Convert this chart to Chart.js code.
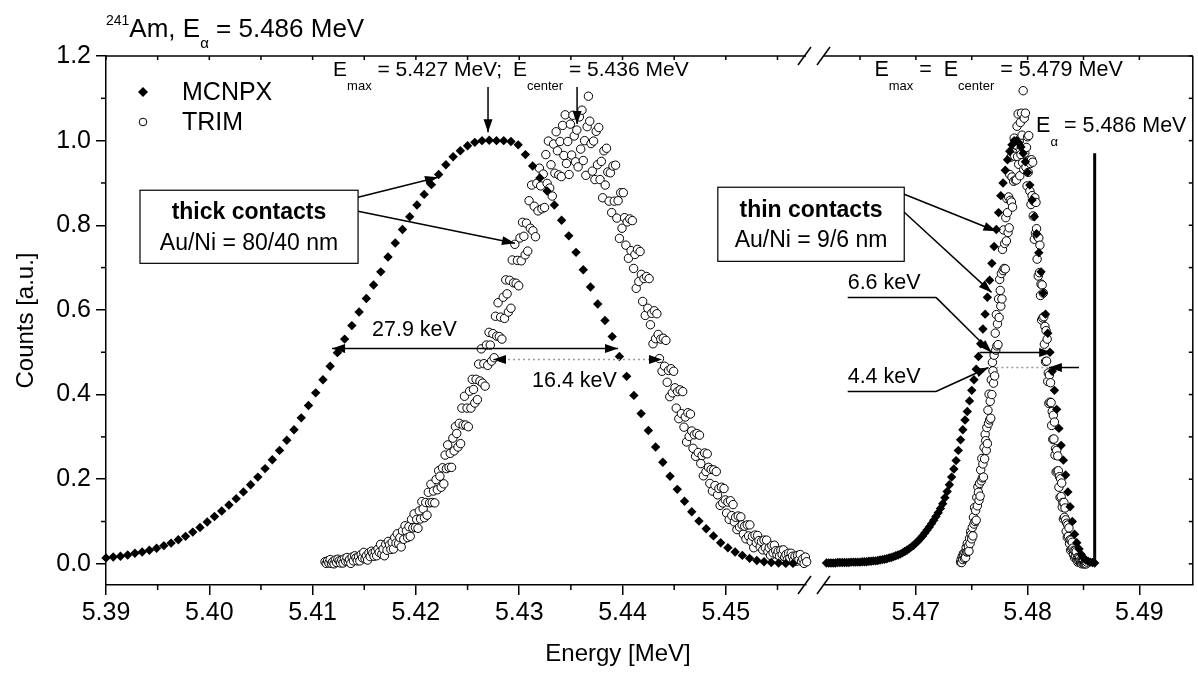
<!DOCTYPE html>
<html lang="en">
<head>
<meta charset="UTF-8">
<title>241Am alpha spectra, thick and thin contacts</title>
<script src="https://cdn.jsdelivr.net/npm/chart.js"></script>
<style>
  body { margin: 0; background: #fff; }
  .wrap { position: relative; width: 1198px; height: 673px; }
  .wrap canvas { position: absolute; left: 0; top: 0; }
</style>
</head>
<body>
<div class="wrap">
  <canvas id="leftChart" width="1198" height="673"></canvas>
  <canvas id="rightChart" width="1198" height="673"></canvas>
</div>
<script>
const FONT = "'Liberation Sans', Arial, Helvetica, sans-serif";

// ---- thick contacts, MCNPX (diamonds) ----
const mcnpxThickE = [
  5.3900, 5.3907, 5.3914, 5.3921, 5.3928, 5.3935, 5.3942, 5.3949, 5.3956, 5.3963,
  5.3970, 5.3977, 5.3984, 5.3991, 5.3998, 5.4005, 5.4012, 5.4019, 5.4026, 5.4033,
  5.4040, 5.4047, 5.4054, 5.4061, 5.4068, 5.4075, 5.4082, 5.4089, 5.4096, 5.4103,
  5.4110, 5.4117, 5.4124, 5.4131, 5.4138, 5.4145, 5.4152, 5.4159, 5.4166, 5.4173,
  5.4180, 5.4187, 5.4194, 5.4201, 5.4208, 5.4215, 5.4222, 5.4229, 5.4236, 5.4243,
  5.4250, 5.4257, 5.4264, 5.4271, 5.4278, 5.4285, 5.4292, 5.4299, 5.4306, 5.4313,
  5.4320, 5.4327, 5.4334, 5.4341, 5.4348, 5.4355, 5.4362, 5.4369, 5.4376, 5.4383,
  5.4390, 5.4397, 5.4404, 5.4411, 5.4418, 5.4425, 5.4432, 5.4439, 5.4446, 5.4453,
  5.4460, 5.4467, 5.4474, 5.4481, 5.4488, 5.4495, 5.4502, 5.4509, 5.4516, 5.4523,
  5.4530, 5.4537, 5.4544, 5.4551, 5.4558, 5.4565
];
const mcnpxThickY = [
  0.014, 0.016, 0.018, 0.021, 0.025, 0.028, 0.032, 0.037, 0.043, 0.049,
  0.057, 0.065, 0.075, 0.086, 0.099, 0.112, 0.125, 0.139, 0.154, 0.170,
  0.187, 0.205, 0.225, 0.246, 0.268, 0.292, 0.317, 0.345, 0.374, 0.404,
  0.435, 0.467, 0.499, 0.531, 0.563, 0.595, 0.627, 0.659, 0.690, 0.725,
  0.758, 0.790, 0.820, 0.848, 0.873, 0.896, 0.920, 0.943, 0.962, 0.976,
  0.988, 0.996, 1.000, 1.001, 1.000, 1.000, 0.998, 0.990, 0.967, 0.940,
  0.912, 0.881, 0.848, 0.812, 0.775, 0.736, 0.695, 0.654, 0.614, 0.575,
  0.537, 0.490, 0.443, 0.398, 0.355, 0.315, 0.276, 0.240, 0.207, 0.176,
  0.148, 0.123, 0.101, 0.083, 0.066, 0.050, 0.038, 0.028, 0.020, 0.013,
  0.008, 0.005, 0.003, 0.002, 0.001, 0.001
];

// ---- thick contacts, TRIM (open circles) ----
const trimThickE = [
  5.411200, 5.411325, 5.411450, 5.411575, 5.411700, 5.411825, 5.411950, 5.412075,
  5.412200, 5.412325, 5.412450, 5.412575, 5.412700, 5.412825, 5.412950, 5.413075,
  5.413200, 5.413325, 5.413450, 5.413575, 5.413700, 5.413825, 5.413950, 5.414075,
  5.414200, 5.414325, 5.414450, 5.414575, 5.414700, 5.414825, 5.414950, 5.415075,
  5.415200, 5.415325, 5.415450, 5.415575, 5.415700, 5.415825, 5.415950, 5.416075,
  5.416200, 5.416325, 5.416450, 5.416575, 5.416700, 5.416825, 5.416950, 5.417075,
  5.417200, 5.417325, 5.417450, 5.417575, 5.417700, 5.417825, 5.417950, 5.418075,
  5.418200, 5.418325, 5.418450, 5.418575, 5.418700, 5.418825, 5.418950, 5.419075,
  5.419200, 5.419325, 5.419450, 5.419575, 5.419700, 5.419825, 5.419950, 5.420075,
  5.420200, 5.420325, 5.420450, 5.420575, 5.420700, 5.420825, 5.420950, 5.421075,
  5.421200, 5.421325, 5.421450, 5.421575, 5.421700, 5.421825, 5.421950, 5.422075,
  5.422200, 5.422325, 5.422450, 5.422575, 5.422700, 5.422825, 5.422950, 5.423075,
  5.423200, 5.423325, 5.423450, 5.423575, 5.423700, 5.423825, 5.423950, 5.424075,
  5.424200, 5.424325, 5.424450, 5.424575, 5.424700, 5.424825, 5.424950, 5.425075,
  5.425200, 5.425325, 5.425450, 5.425575, 5.425700, 5.425825, 5.425950, 5.426075,
  5.426200, 5.426325, 5.426450, 5.426575, 5.426700, 5.426825, 5.426950, 5.427075,
  5.427200, 5.427325, 5.427450, 5.427575, 5.427700, 5.427825, 5.427950, 5.428075,
  5.428200, 5.428325, 5.428450, 5.428575, 5.428700, 5.428825, 5.428950, 5.429075,
  5.429200, 5.429325, 5.429450, 5.429575, 5.429700, 5.429825, 5.429950, 5.430075,
  5.430200, 5.430325, 5.430450, 5.430575, 5.430700, 5.430825, 5.430950, 5.431075,
  5.431200, 5.431325, 5.431450, 5.431575, 5.431700, 5.431825, 5.431950, 5.432075,
  5.432200, 5.432325, 5.432450, 5.432575, 5.432700, 5.432825, 5.432950, 5.433075,
  5.433200, 5.433325, 5.433450, 5.433575, 5.433700, 5.433825, 5.433950, 5.434075,
  5.434200, 5.434325, 5.434450, 5.434575, 5.434700, 5.434825, 5.434950, 5.435075,
  5.435200, 5.435325, 5.435450, 5.435575, 5.435700, 5.435825, 5.435950, 5.436075,
  5.436200, 5.436325, 5.436450, 5.436575, 5.436700, 5.436825, 5.436950, 5.437075,
  5.437200, 5.437325, 5.437450, 5.437575, 5.437700, 5.437825, 5.437950, 5.438075,
  5.438200, 5.438325, 5.438450, 5.438575, 5.438700, 5.438825, 5.438950, 5.439075,
  5.439200, 5.439325, 5.439450, 5.439575, 5.439700, 5.439825, 5.439950, 5.440075,
  5.440200, 5.440325, 5.440450, 5.440575, 5.440700, 5.440825, 5.440950, 5.441075,
  5.441200, 5.441325, 5.441450, 5.441575, 5.441700, 5.441825, 5.441950, 5.442075,
  5.442200, 5.442325, 5.442450, 5.442575, 5.442700, 5.442825, 5.442950, 5.443075,
  5.443200, 5.443325, 5.443450, 5.443575, 5.443700, 5.443825, 5.443950, 5.444075,
  5.444200, 5.444325, 5.444450, 5.444575, 5.444700, 5.444825, 5.444950, 5.445075,
  5.445200, 5.445325, 5.445450, 5.445575, 5.445700, 5.445825, 5.445950, 5.446075,
  5.446200, 5.446325, 5.446450, 5.446575, 5.446700, 5.446825, 5.446950, 5.447075,
  5.447200, 5.447325, 5.447450, 5.447575, 5.447700, 5.447825, 5.447950, 5.448075,
  5.448200, 5.448325, 5.448450, 5.448575, 5.448700, 5.448825, 5.448950, 5.449075,
  5.449200, 5.449325, 5.449450, 5.449575, 5.449700, 5.449825, 5.449950, 5.450075,
  5.450200, 5.450325, 5.450450, 5.450575, 5.450700, 5.450825, 5.450950, 5.451075,
  5.451200, 5.451325, 5.451450, 5.451575, 5.451700, 5.451825, 5.451950, 5.452075,
  5.452200, 5.452325, 5.452450, 5.452575, 5.452700, 5.452825, 5.452950, 5.453075,
  5.453200, 5.453325, 5.453450, 5.453575, 5.453700, 5.453825, 5.453950, 5.454075,
  5.454200, 5.454325, 5.454450, 5.454575, 5.454700, 5.454825, 5.454950, 5.455075,
  5.455200, 5.455325, 5.455450, 5.455575, 5.455700, 5.455825, 5.455950, 5.456075,
  5.456200, 5.456325, 5.456450, 5.456575, 5.456700, 5.456825, 5.456950, 5.457075,
  5.457200, 5.457325, 5.457450, 5.457575, 5.457700, 5.457825, 5.457950
];
const trimThickY = [
  0.005, 0.001, 0.007, 0.002, 0.010, 0.001, 0.005, 0.000,
  0.009, 0.003, 0.011, 0.007, 0.002, 0.009, 0.002, 0.012,
  0.006, 0.015, 0.005, 0.010, 0.001, 0.016, 0.007, 0.019,
  0.014, 0.007, 0.017, 0.007, 0.022, 0.014, 0.027, 0.012,
  0.019, 0.009, 0.026, 0.017, 0.030, 0.025, 0.018, 0.029,
  0.019, 0.035, 0.027, 0.046, 0.023, 0.035, 0.019, 0.046,
  0.032, 0.053, 0.045, 0.034, 0.051, 0.035, 0.062, 0.049,
  0.071, 0.048, 0.062, 0.040, 0.078, 0.058, 0.090, 0.078,
  0.062, 0.088, 0.065, 0.105, 0.085, 0.118, 0.086, 0.105,
  0.084, 0.125, 0.106, 0.147, 0.130, 0.109, 0.145, 0.115,
  0.169, 0.144, 0.188, 0.145, 0.172, 0.144, 0.199, 0.175,
  0.220, 0.207, 0.181, 0.227, 0.189, 0.257, 0.225, 0.281,
  0.228, 0.261, 0.228, 0.297, 0.267, 0.324, 0.308, 0.276,
  0.332, 0.284, 0.368, 0.328, 0.396, 0.328, 0.368, 0.324,
  0.408, 0.368, 0.436, 0.412, 0.380, 0.436, 0.388, 0.472,
  0.432, 0.508, 0.427, 0.473, 0.420, 0.517, 0.469, 0.547,
  0.517, 0.479, 0.544, 0.487, 0.585, 0.538, 0.617, 0.537,
  0.583, 0.531, 0.630, 0.580, 0.671, 0.638, 0.595, 0.670,
  0.604, 0.718, 0.664, 0.755, 0.663, 0.717, 0.657, 0.770,
  0.716, 0.807, 0.774, 0.730, 0.805, 0.739, 0.858, 0.793,
  0.895, 0.787, 0.845, 0.773, 0.899, 0.834, 0.935, 0.893,
  0.839, 0.921, 0.842, 0.967, 0.899, 0.999, 0.888, 0.943,
  0.869, 0.992, 0.923, 1.021, 0.976, 0.919, 0.998, 0.915,
  1.036, 0.965, 1.061, 0.946, 0.998, 0.920, 1.039, 0.966,
  1.060, 1.011, 0.950, 1.025, 0.938, 1.056, 0.980, 1.072,
  0.953, 1.000, 0.918, 1.033, 1.105, 1.046, 0.993, 0.928,
  0.999, 0.908, 1.022, 0.943, 1.031, 0.908, 0.951, 0.865,
  0.976, 0.895, 0.982, 0.926, 0.857, 0.924, 0.830, 0.940,
  0.857, 0.942, 0.817, 0.858, 0.769, 0.877, 0.793, 0.877,
  0.818, 0.753, 0.808, 0.722, 0.815, 0.740, 0.811, 0.698,
  0.731, 0.651, 0.743, 0.667, 0.738, 0.684, 0.620, 0.674,
  0.587, 0.679, 0.604, 0.674, 0.565, 0.592, 0.520, 0.598,
  0.532, 0.591, 0.542, 0.485, 0.531, 0.455, 0.533, 0.467,
  0.528, 0.429, 0.457, 0.395, 0.461, 0.404, 0.455, 0.416,
  0.368, 0.407, 0.343, 0.411, 0.355, 0.407, 0.323, 0.347,
  0.288, 0.357, 0.301, 0.354, 0.314, 0.273, 0.305, 0.254,
  0.308, 0.263, 0.304, 0.237, 0.256, 0.208, 0.262, 0.218,
  0.260, 0.228, 0.190, 0.223, 0.172, 0.222, 0.185, 0.218,
  0.163, 0.178, 0.138, 0.181, 0.144, 0.178, 0.151, 0.120,
  0.146, 0.105, 0.149, 0.114, 0.140, 0.099, 0.110, 0.081,
  0.113, 0.087, 0.111, 0.092, 0.070, 0.089, 0.059, 0.092,
  0.066, 0.092, 0.053, 0.065, 0.038, 0.068, 0.050, 0.067,
  0.055, 0.040, 0.053, 0.033, 0.056, 0.038, 0.056, 0.029,
  0.038, 0.020, 0.043, 0.026, 0.044, 0.031, 0.022, 0.030,
  0.018, 0.032, 0.022, 0.033, 0.016, 0.022, 0.010, 0.025,
  0.014, 0.025, 0.018, 0.009, 0.018, 0.006, 0.020, 0.010,
  0.022, 0.006, 0.012, 0.001, 0.016, 0.005, 0.017
];

// ---- thin contacts, MCNPX (diamonds) ----
const mcnpxThinE = [
  5.4620, 5.4622, 5.4624, 5.4626, 5.4628, 5.4630, 5.4632, 5.4634, 5.4636, 5.4638,
  5.4640, 5.4642, 5.4644, 5.4646, 5.4648, 5.4650, 5.4652, 5.4654, 5.4656, 5.4658,
  5.4660, 5.4662, 5.4664, 5.4666, 5.4668, 5.4670, 5.4672, 5.4674, 5.4676, 5.4678,
  5.4680, 5.4682, 5.4684, 5.4686, 5.4688, 5.4690, 5.4692, 5.4694, 5.4696, 5.4698,
  5.4700, 5.4702, 5.4704, 5.4706, 5.4708, 5.4710, 5.4712, 5.4714, 5.4716, 5.4718,
  5.4720, 5.4722, 5.4724, 5.4726, 5.4728, 5.4730, 5.4732, 5.4734, 5.4736, 5.4738,
  5.4740, 5.4742, 5.4744, 5.4746, 5.4748, 5.4750, 5.4752, 5.4754, 5.4756, 5.4758,
  5.4760, 5.4762, 5.4764, 5.4766, 5.4768, 5.4770, 5.4772, 5.4774, 5.4776, 5.4778,
  5.4780, 5.4782, 5.4784, 5.4786, 5.4788, 5.4790, 5.4792, 5.4794, 5.4796, 5.4798,
  5.4800, 5.4802, 5.4804, 5.4806, 5.4808, 5.4810, 5.4812, 5.4814, 5.4816, 5.4818,
  5.4820, 5.4822, 5.4824, 5.4826, 5.4828, 5.4830, 5.4832, 5.4834, 5.4836, 5.4838,
  5.4840, 5.4842, 5.4844, 5.4846, 5.4848, 5.4850, 5.4852, 5.4854, 5.4856, 5.4858,
  5.4860
];
const mcnpxThinY = [
  0.002, 0.002, 0.002, 0.002, 0.002, 0.003, 0.003, 0.003, 0.003, 0.003,
  0.003, 0.004, 0.004, 0.004, 0.004, 0.004, 0.005, 0.005, 0.005, 0.006,
  0.006, 0.007, 0.007, 0.008, 0.009, 0.010, 0.011, 0.012, 0.014, 0.015,
  0.017, 0.019, 0.021, 0.023, 0.026, 0.029, 0.032, 0.036, 0.040, 0.044,
  0.049, 0.054, 0.060, 0.066, 0.073, 0.080, 0.087, 0.095, 0.103, 0.112,
  0.121, 0.131, 0.142, 0.156, 0.171, 0.187, 0.205, 0.224, 0.244, 0.268,
  0.293, 0.317, 0.340, 0.360, 0.385, 0.410, 0.435, 0.460, 0.490, 0.520,
  0.555, 0.590, 0.630, 0.670, 0.710, 0.750, 0.790, 0.830, 0.870, 0.900,
  0.930, 0.955, 0.975, 0.990, 1.000, 1.000, 0.995, 0.985, 0.970, 0.950,
  0.925, 0.895, 0.860, 0.820, 0.780, 0.735, 0.690, 0.640, 0.590, 0.545,
  0.500, 0.455, 0.410, 0.365, 0.320, 0.280, 0.245, 0.210, 0.170, 0.135,
  0.100, 0.070, 0.050, 0.035, 0.022, 0.014, 0.009, 0.006, 0.004, 0.003,
  0.002
];

// ---- thin contacts, TRIM (open circles) ----
const trimThinE = [
  5.47400, 5.47405, 5.47410, 5.47415, 5.47420, 5.47425, 5.47430, 5.47435, 5.47440, 5.47445,
  5.47450, 5.47455, 5.47460, 5.47465, 5.47470, 5.47475, 5.47480, 5.47485, 5.47490, 5.47495,
  5.47500, 5.47505, 5.47510, 5.47515, 5.47520, 5.47525, 5.47530, 5.47535, 5.47540, 5.47545,
  5.47550, 5.47555, 5.47560, 5.47565, 5.47570, 5.47575, 5.47580, 5.47585, 5.47590, 5.47595,
  5.47600, 5.47605, 5.47610, 5.47615, 5.47620, 5.47625, 5.47630, 5.47635, 5.47640, 5.47645,
  5.47650, 5.47655, 5.47660, 5.47665, 5.47670, 5.47675, 5.47680, 5.47685, 5.47690, 5.47695,
  5.47700, 5.47705, 5.47710, 5.47715, 5.47720, 5.47725, 5.47730, 5.47735, 5.47740, 5.47745,
  5.47750, 5.47755, 5.47760, 5.47765, 5.47770, 5.47775, 5.47780, 5.47785, 5.47790, 5.47795,
  5.47800, 5.47805, 5.47810, 5.47815, 5.47820, 5.47825, 5.47830, 5.47835, 5.47840, 5.47845,
  5.47850, 5.47855, 5.47860, 5.47865, 5.47870, 5.47875, 5.47880, 5.47885, 5.47890, 5.47895,
  5.47900, 5.47905, 5.47910, 5.47915, 5.47920, 5.47925, 5.47930, 5.47935, 5.47940, 5.47945,
  5.47950, 5.47955, 5.47960, 5.47965, 5.47970, 5.47975, 5.47980, 5.47985, 5.47990, 5.47995,
  5.48000, 5.48005, 5.48010, 5.48015, 5.48020, 5.48025, 5.48030, 5.48035, 5.48040, 5.48045,
  5.48050, 5.48055, 5.48060, 5.48065, 5.48070, 5.48075, 5.48080, 5.48085, 5.48090, 5.48095,
  5.48100, 5.48105, 5.48110, 5.48115, 5.48120, 5.48125, 5.48130, 5.48135, 5.48140, 5.48145,
  5.48150, 5.48155, 5.48160, 5.48165, 5.48170, 5.48175, 5.48180, 5.48185, 5.48190, 5.48195,
  5.48200, 5.48205, 5.48210, 5.48215, 5.48220, 5.48225, 5.48230, 5.48235, 5.48240, 5.48245,
  5.48250, 5.48255, 5.48260, 5.48265, 5.48270, 5.48275, 5.48280, 5.48285, 5.48290, 5.48295,
  5.48300, 5.48305, 5.48310, 5.48315, 5.48320, 5.48325, 5.48330, 5.48335, 5.48340, 5.48345,
  5.48350, 5.48355, 5.48360, 5.48365, 5.48370, 5.48375, 5.48380, 5.48385, 5.48390, 5.48395,
  5.48400, 5.48405, 5.48410, 5.48415, 5.48420, 5.48425, 5.48430, 5.48435, 5.48440, 5.48445,
  5.48450, 5.48455, 5.48460, 5.48465, 5.48470, 5.48475, 5.48480, 5.48485, 5.48490, 5.48495,
  5.48500, 5.48505, 5.48510, 5.48515, 5.48520, 5.48525, 5.48530
];
const trimThinY = [
  0.004, 0.010, 0.003, 0.017, 0.010, 0.024, 0.020, 0.013, 0.027, 0.015,
  0.038, 0.028, 0.048, 0.029, 0.042, 0.030, 0.060, 0.048, 0.076, 0.069,
  0.059, 0.086, 0.066, 0.110, 0.094, 0.133, 0.100, 0.126, 0.103, 0.157,
  0.137, 0.182, 0.169, 0.150, 0.190, 0.160, 0.222, 0.196, 0.249, 0.203,
  0.236, 0.205, 0.275, 0.248, 0.306, 0.291, 0.268, 0.322, 0.284, 0.363,
  0.332, 0.401, 0.340, 0.384, 0.344, 0.435, 0.400, 0.476, 0.456, 0.427,
  0.493, 0.444, 0.545, 0.505, 0.589, 0.515, 0.567, 0.518, 0.626, 0.582,
  0.672, 0.646, 0.609, 0.686, 0.626, 0.743, 0.693, 0.789, 0.698, 0.757,
  0.697, 0.818, 0.763, 0.863, 0.830, 0.783, 0.867, 0.794, 0.920, 0.859,
  0.961, 0.855, 0.914, 0.843, 0.971, 0.904, 1.006, 0.963, 0.907, 0.990,
  0.907, 1.034, 0.962, 1.063, 0.944, 0.999, 0.917, 1.043, 0.967, 1.065,
  1.013, 0.948, 1.118, 0.932, 1.053, 0.971, 1.065, 0.937, 0.984, 0.893,
  1.009, 0.925, 1.012, 0.953, 0.881, 0.946, 0.849, 0.955, 0.870, 0.949,
  0.822, 0.857, 0.767, 0.865, 0.781, 0.854, 0.792, 0.720, 0.773, 0.680,
  0.770, 0.688, 0.753, 0.634, 0.661, 0.576, 0.659, 0.581, 0.640, 0.584,
  0.519, 0.561, 0.478, 0.551, 0.479, 0.531, 0.431, 0.451, 0.379, 0.446,
  0.382, 0.428, 0.381, 0.327, 0.360, 0.294, 0.351, 0.295, 0.335, 0.257,
  0.272, 0.217, 0.268, 0.219, 0.255, 0.220, 0.181, 0.206, 0.157, 0.201,
  0.159, 0.191, 0.134, 0.145, 0.106, 0.145, 0.110, 0.132, 0.104, 0.077,
  0.096, 0.063, 0.092, 0.065, 0.085, 0.048, 0.057, 0.032, 0.056, 0.035,
  0.051, 0.037, 0.022, 0.032, 0.015, 0.031, 0.017, 0.029, 0.010, 0.015,
  0.004, 0.015, 0.006, 0.014, 0.008, 0.002, 0.007, 0.000, 0.008, 0.002,
  0.008, 0.000, 0.002, 0.000, 0.005, 0.000, 0.004
];

// E_alpha = 5.486 MeV reference line
const alphaLineE = [5.486, 5.486];
const alphaLineY = [0, 0.97];

// ---- axes ----
const countTicks = [0, 0.2, 0.4, 0.6, 0.8, 1.0, 1.2];
const countMinor = [0.1, 0.3, 0.5, 0.7, 0.9, 1.1];
const energyTicksLeft = [5.39, 5.40, 5.41, 5.42, 5.43, 5.44, 5.45];
const energyMinorLeft = [5.395, 5.405, 5.415, 5.425, 5.435, 5.445, 5.455];
const energyTicksRight = [5.47, 5.48, 5.49];
const energyMinorRight = [5.465, 5.475, 5.485];

const yMin = -0.05, yMax = 1.2;
const leftMin = 5.39, leftMax = 5.45776;
const rightMin = 5.46178, rightMax = 5.49478;

const pts = (xs, ys) => xs.map((x, i) => ({ x, y: ys[i] }));

const diamond = {
  pointStyle: 'rectRot', pointRadius: 4.7, backgroundColor: '#000',
  borderColor: '#000', borderWidth: 0, showLine: false, clip: false
};
const circle = {
  pointStyle: 'circle', pointRadius: 4.2, backgroundColor: '#fff',
  borderColor: '#000', borderWidth: 1, showLine: false, clip: false
};

function arrowHead(ctx, x1, y1, x2, y2, len = 13, half = 4.5) {
  const a = Math.atan2(y2 - y1, x2 - x1), c = Math.cos(a), s = Math.sin(a);
  ctx.beginPath();
  ctx.moveTo(x2, y2);
  ctx.lineTo(x2 - len * c - half * s, y2 - len * s + half * c);
  ctx.lineTo(x2 - len * c + half * s, y2 - len * s - half * c);
  ctx.closePath();
  ctx.fill();
}
function seg(ctx, x1, y1, x2, y2) {
  ctx.beginPath(); ctx.moveTo(x1, y1); ctx.lineTo(x2, y2); ctx.stroke();
}
function arrow(ctx, x1, y1, x2, y2, both) {
  seg(ctx, x1, y1, x2, y2);
  arrowHead(ctx, x1, y1, x2, y2);
  if (both) arrowHead(ctx, x2, y2, x1, y1);
}
// text made of parts [text, size, dy, bold]
function rich(ctx, x, y, parts) {
  let cx = x;
  for (const [t, size, dy, bold] of parts) {
    ctx.font = (bold ? 'bold ' : '') + size + 'px ' + FONT;
    ctx.fillText(t, cx, y + (dy || 0));
    cx += ctx.measureText(t).width;
  }
}
function box(ctx, x1, y1, x2, y2, line1, line2, cx, b1, b2) {
  ctx.fillStyle = '#fff';
  ctx.fillRect(x1, y1, x2 - x1, y2 - y1);
  ctx.strokeRect(x1, y1, x2 - x1, y2 - y1);
  ctx.fillStyle = '#000';
  ctx.textAlign = 'center';
  ctx.font = 'bold 23px ' + FONT;
  ctx.fillText(line1, cx, b1);
  ctx.font = '23px ' + FONT;
  ctx.fillText(line2, cx, b2);
  ctx.textAlign = 'left';
}
function frameTicks(ctx, chart, majorX, minorX) {
  const ca = chart.chartArea, sx = chart.scales.x, sy = chart.scales.y;
  seg(ctx, ca.left, ca.top, ca.right, ca.top);
  minorX.forEach(v => seg(ctx, sx.getPixelForValue(v), ca.bottom, sx.getPixelForValue(v), ca.bottom + 5));
  majorX.concat(minorX).forEach(v => seg(ctx, sx.getPixelForValue(v), ca.top, sx.getPixelForValue(v), ca.top + 4));
  return { ca, X: v => sx.getPixelForValue(v), Y: v => sy.getPixelForValue(v) };
}

const leftNotes = {
  id: 'leftNotes',
  afterDraw(chart) {
    const ctx = chart.ctx;
    ctx.save();
    ctx.strokeStyle = '#000'; ctx.fillStyle = '#000'; ctx.lineWidth = 1.5;
    const { ca, X, Y } = frameTicks(ctx, chart, energyTicksLeft, energyMinorLeft);
    countMinor.forEach(v => seg(ctx, ca.left - 5, Y(v), ca.left, Y(v)));

    // break marks
    [ca.bottom, ca.top].forEach(yb => {
      seg(ctx, ca.right - 8, yb + 9, ca.right + 5, yb - 9);
      seg(ctx, ca.right + 11, yb + 9, ca.right + 24, yb - 9);
    });

    ctx.textBaseline = 'alphabetic';
    // title
    rich(ctx, ca.left, 37, [['241', 14, -12], ['Am, E', 26], ['\u03b1', 15, 11], [' = 5.486 MeV', 26]]);
    // x title
    ctx.textAlign = 'center';
    ctx.font = '24px ' + FONT;
    ctx.fillText('Energy [MeV]', 618, 661);
    ctx.textAlign = 'left';

    // legend
    const lx = ca.left + 37;
    ctx.beginPath();
    ctx.moveTo(lx, 87); ctx.lineTo(lx + 5, 92); ctx.lineTo(lx, 97); ctx.lineTo(lx - 5, 92);
    ctx.closePath(); ctx.fill();
    ctx.beginPath(); ctx.arc(lx, 122, 3.8, 0, 2 * Math.PI);
    ctx.fillStyle = '#fff'; ctx.fill(); ctx.lineWidth = 1; ctx.stroke();
    ctx.fillStyle = '#000'; ctx.lineWidth = 1.5;
    ctx.textBaseline = 'middle';
    ctx.font = '25px ' + FONT;
    ctx.fillText('MCNPX', ca.left + 76, 93);
    ctx.fillText('TRIM', ca.left + 76, 123);
    ctx.textBaseline = 'alphabetic';

    // peak labels
    rich(ctx, X(5.41198), Y(1.1527), [['E', 21], ['max', 13, 14], [' = 5.427 MeV;', 21]]);
    rich(ctx, X(5.4294), Y(1.1527), [['E', 21], ['center', 13, 14], [' = 5.436 MeV', 21]]);
    arrow(ctx, X(5.42698), Y(1.1266), X(5.42698), Y(1.0201));
    arrow(ctx, X(5.4356), Y(1.1266), X(5.4356), Y(1.0391));

    // thick contacts box
    ctx.lineWidth = 1.2;
    box(ctx, X(5.39329), Y(0.8828), X(5.4144), Y(0.7101),
      'thick contacts', 'Au/Ni = 80/40 nm', X(5.40384), Y(0.8142), Y(0.7408));
    ctx.lineWidth = 1.5;
    arrow(ctx, X(5.4144), Y(0.8663), X(5.42214), Y(0.9136));
    arrow(ctx, X(5.4144), Y(0.8331), X(5.42959), Y(0.7574));

    // FWHM, MCNPX
    arrow(ctx, X(5.41188), Y(0.5089), X(5.43956), Y(0.5089), true);
    ctx.font = '21.5px ' + FONT;
    ctx.fillText('27.9 keV', X(5.41575), Y(0.5373));
    // FWHM, TRIM (dotted)
    ctx.save();
    ctx.strokeStyle = '#999'; ctx.lineWidth = 1.5; ctx.setLineDash([2, 3]);
    seg(ctx, X(5.42746), Y(0.4828), X(5.44382), Y(0.4828));
    ctx.restore();
    arrowHead(ctx, X(5.44382), Y(0.4828), X(5.42746), Y(0.4828));
    arrowHead(ctx, X(5.42746), Y(0.4828), X(5.44382), Y(0.4828));
    ctx.fillText('16.4 keV', X(5.43124), Y(0.4189));
    ctx.restore();
  }
};

const rightNotes = {
  id: 'rightNotes',
  afterDraw(chart) {
    const ctx = chart.ctx;
    ctx.save();
    ctx.strokeStyle = '#000'; ctx.fillStyle = '#000'; ctx.lineWidth = 1.5;
    const { ca, X, Y } = frameTicks(ctx, chart, energyTicksRight, energyMinorRight);
    seg(ctx, ca.right, ca.top, ca.right, ca.bottom);
    countTicks.concat(countMinor).forEach(v => seg(ctx, ca.right - 4, Y(v), ca.right, Y(v)));

    ctx.textBaseline = 'alphabetic';
    rich(ctx, X(5.46629), Y(1.1527), [['E', 21.5], ['max', 13, 14], [' =  ', 21.5], ['E', 21.5], ['center', 13, 14], [' = 5.479 MeV', 21.5]]);
    rich(ctx, X(5.48076), Y(1.0201), [['E', 21.5], ['\u03b1', 13, 14], [' = 5.486 MeV', 21.5]]);

    // thin contacts box
    ctx.lineWidth = 1.2;
    box(ctx, X(5.45228), Y(0.8899), X(5.46896), Y(0.7148),
      'thin contacts', 'Au/Ni = 9/6 nm', X(5.46062), Y(0.8189), Y(0.7479));
    ctx.lineWidth = 1.5;
    arrow(ctx, X(5.46896), Y(0.8734), X(5.47721), Y(0.7858));
    arrow(ctx, X(5.46896), Y(0.8308), X(5.47677), Y(0.6414));

    // FWHM labels with leaders
    ctx.font = '21.5px ' + FONT;
    ctx.fillText('6.6 keV', X(5.4639), Y(0.6485));
    ctx.fillText('4.4 keV', X(5.4639), Y(0.4284));
    seg(ctx, X(5.4639), Y(0.6296), X(5.4718), Y(0.6296));
    arrow(ctx, X(5.4718), Y(0.6296), X(5.47677), Y(0.4994));
    seg(ctx, X(5.4639), Y(0.4071), X(5.4718), Y(0.4071));
    arrow(ctx, X(5.4718), Y(0.4071), X(5.4765), Y(0.4639));

    // FWHM, MCNPX thin
    arrow(ctx, X(5.4757), Y(0.4994), X(5.4822), Y(0.4994));
    // FWHM, TRIM thin (dotted)
    ctx.save();
    ctx.strokeStyle = '#999'; ctx.setLineDash([2, 3]);
    seg(ctx, X(5.4772), Y(0.4639), X(5.4818), Y(0.4639));
    ctx.restore();
    arrow(ctx, X(5.4846), Y(0.4639), X(5.4819), Y(0.4639));
    ctx.restore();
  }
};

function xAxis(min, max, ticks) {
  return {
    type: 'linear', min, max,
    afterBuildTicks: s => { s.ticks = ticks.map(v => ({ value: v })); },
    afterFit: s => { s.height = 88; },
    grid: { drawOnChartArea: false, drawTicks: true, tickLength: 10, color: '#000', lineWidth: 1.5 },
    border: { display: true, color: '#000', width: 1.5 },
    ticks: {
      font: { family: FONT, size: 25 }, color: '#000', padding: 3,
      maxRotation: 0, autoSkip: false, callback: v => v.toFixed(2)
    }
  };
}

const common = {
  responsive: false, animation: false, events: [], devicePixelRatio: 1,
  plugins: { legend: { display: false }, tooltip: { enabled: false } }
};

new Chart(document.getElementById('leftChart'), {
  type: 'scatter',
  data: {
    datasets: [
      { ...diamond, label: 'MCNPX', data: pts(mcnpxThickE, mcnpxThickY) },
      { ...circle, label: 'TRIM', data: pts(trimThickE, trimThickY) }
    ]
  },
  options: {
    ...common,
    layout: { padding: { left: 0, right: 1198 - 806, top: 56, bottom: 0 } },
    scales: {
      x: xAxis(leftMin, leftMax, energyTicksLeft),
      y: {
        type: 'linear', min: yMin, max: yMax,
        afterBuildTicks: s => { s.ticks = countTicks.map(v => ({ value: v })); },
        afterFit: s => { s.width = 106; },
        grid: { drawOnChartArea: false, drawTicks: true, tickLength: 10, color: '#000', lineWidth: 1.5 },
        border: { display: true, color: '#000', width: 1.5 },
        ticks: { font: { family: FONT, size: 25 }, color: '#000', padding: 5, callback: v => v.toFixed(1) },
        title: {
          display: true, text: 'Counts [a.u.]', color: '#000',
          font: { family: FONT, size: 24 }, padding: { top: 12, bottom: 0 }
        }
      }
    }
  },
  plugins: [leftNotes]
});

new Chart(document.getElementById('rightChart'), {
  type: 'scatter',
  data: {
    datasets: [
      { label: 'E alpha', data: pts(alphaLineE, alphaLineY), showLine: true,
        borderColor: '#000', borderWidth: 3, pointRadius: 0, clip: false },
      { ...diamond, label: 'MCNPX', data: pts(mcnpxThinE, mcnpxThinY) },
      { ...circle, label: 'TRIM', data: pts(trimThinE, trimThinY) }
    ]
  },
  options: {
    ...common,
    layout: { padding: { left: 824, right: 2, top: 56, bottom: 0 } },
    scales: {
      x: xAxis(rightMin, rightMax, energyTicksRight),
      y: { type: 'linear', display: false, min: yMin, max: yMax }
    }
  },
  plugins: [rightNotes]
});
</script>
</body>
</html>
